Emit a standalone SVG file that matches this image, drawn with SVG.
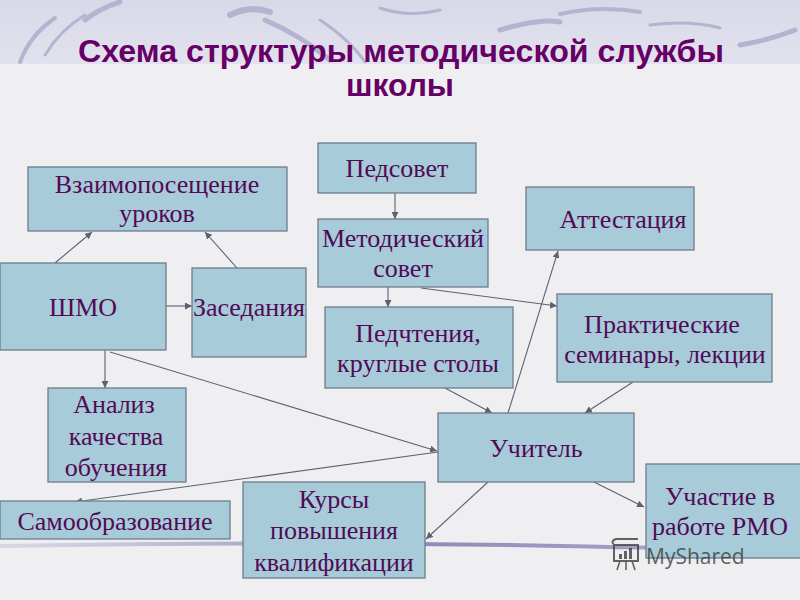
<svg xmlns="http://www.w3.org/2000/svg" width="800" height="600" viewBox="0 0 800 600">
<defs>
<marker id="ah" viewBox="0 0 10 10" refX="10" refY="5" markerWidth="7" markerHeight="7" markerUnits="userSpaceOnUse" orient="auto">
<path d="M0,0 L10,5 L0,10 z" fill="#5a6272"/>
</marker>
<linearGradient id="band" x1="0" y1="0" x2="0" y2="1">
<stop offset="0" stop-color="#d8d8e8"/>
<stop offset="1" stop-color="#e2e2ee"/>
</linearGradient>
<linearGradient id="sw" x1="0" y1="0" x2="1" y2="0">
<stop offset="0" stop-color="#c8c8dc" stop-opacity="0.6"/>
<stop offset="0.5" stop-color="#8a8ab8"/>
<stop offset="1" stop-color="#b0b0d0"/>
</linearGradient>
</defs>
<style>
.box{fill:#a7cbd9;stroke:#6e7c8c;stroke-width:1.3}
.t{font-family:"Liberation Serif","Times New Roman",serif;font-size:26px;fill:#520a56;text-anchor:middle}
.ttl{font-family:"Liberation Sans",Arial,sans-serif;font-weight:bold;font-size:32px;fill:#660066;text-anchor:middle}
.c{stroke:#5a6272;stroke-width:1.1;fill:none;marker-end:url(#ah)}
.sw{fill:none;stroke:#b4b4d0;stroke-linecap:round}
</style>
<rect width="800" height="600" fill="#efeff1"/>
<rect width="800" height="64" fill="url(#band)"/>
<g id="decor">
<path class="sw" d="M20,62 Q30,35 55,18" stroke-width="4"/>
<path class="sw" d="M45,55 Q60,30 85,15" stroke-width="3"/>
<path class="sw" d="M85,20 Q100,8 120,2" stroke-width="5"/>
<path class="sw" d="M230,15 Q250,5 270,12" stroke-width="6"/>
<path class="sw" d="M265,20 Q300,35 330,60" stroke-width="5"/>
<path class="sw" d="M320,20 Q350,40 365,62" stroke-width="3"/>
<path class="sw" d="M500,30 Q540,18 560,22" stroke-width="5"/>
<path class="sw" d="M560,14 Q600,5 640,12" stroke-width="4"/>
<path class="sw" d="M650,25 Q690,20 720,28" stroke-width="3"/>
<path class="sw" d="M740,45 Q770,40 795,30" stroke-width="5"/>
<path class="sw" d="M380,8 Q410,18 440,10" stroke-width="3"/>
<path d="M0,546 Q320,541 560,546 T800,548" fill="none" stroke="url(#sw)" stroke-width="4"/>
</g>
<g id="title">
<text class="ttl" x="401" y="62" textLength="646" lengthAdjust="spacingAndGlyphs">Схема структуры методической службы</text>
<text class="ttl" x="400" y="96" textLength="108" lengthAdjust="spacingAndGlyphs">школы</text>
</g>
<g id="connectors">
<line class="c" x1="55" y1="263" x2="92" y2="232"/>
<line class="c" x1="237" y1="268" x2="205" y2="232"/>
<line class="c" x1="166" y1="306" x2="192" y2="306"/>
<line class="c" x1="105" y1="350" x2="105" y2="388"/>
<line class="c" x1="110" y1="352" x2="437" y2="451"/>
<line class="c" x1="438" y1="452" x2="75" y2="502"/>
<line class="c" x1="395" y1="193" x2="395" y2="219"/>
<line class="c" x1="388" y1="287" x2="388" y2="307"/>
<line class="c" x1="421" y1="288" x2="557" y2="306"/>
<line class="c" x1="445" y1="388" x2="492" y2="413"/>
<line class="c" x1="633" y1="382" x2="585" y2="413"/>
<line class="c" x1="508" y1="413" x2="558" y2="251"/>
<line class="c" x1="488" y1="482" x2="426" y2="539"/>
<line class="c" x1="594" y1="482" x2="644" y2="507"/>
</g>
<g id="n-vzaimo"><rect class="box" x="28" y="167" width="259" height="64"/><text class="t" x="157" y="193">Взаимопосещение</text><text class="t" x="157" y="222">уроков</text></g>
<g id="n-pedsovet"><rect class="box" x="318" y="143" width="158" height="50"/><text class="t" x="397" y="177">Педсовет</text></g>
<g id="n-metsovet"><rect class="box" x="318" y="219" width="170" height="68"/><text class="t" x="403" y="247">Методический</text><text class="t" x="403" y="277">совет</text></g>
<g id="n-attest"><rect class="box" x="526" y="187" width="168" height="63"/><text class="t" x="623" y="228">Аттестация</text></g>
<g id="n-shmo"><rect class="box" x="0" y="263" width="166" height="87"/><text class="t" x="83" y="316">ШМО</text></g>
<g id="n-zased"><rect class="box" x="192" y="268" width="114" height="89"/><text class="t" x="249" y="316">Заседания</text></g>
<g id="n-pedcht"><rect class="box" x="325" y="307" width="188" height="81"/><text class="t" x="418" y="342">Педчтения,</text><text class="t" x="418" y="372">круглые столы</text></g>
<g id="n-prakt"><rect class="box" x="557" y="294" width="215" height="88"/><text class="t" x="662" y="333">Практические</text><text class="t" x="665" y="363">семинары, лекции</text></g>
<g id="n-analiz"><rect class="box" x="48" y="388" width="138" height="94"/><text class="t" x="114" y="413">Анализ</text><text class="t" x="116" y="445">качества</text><text class="t" x="116" y="476">обучения</text></g>
<g id="n-uchitel"><rect class="box" x="438" y="413" width="196" height="69"/><text class="t" x="536" y="457">Учитель</text></g>
<g id="n-samoobr"><rect class="box" x="0" y="501" width="230" height="38"/><text class="t" x="115" y="530">Самообразование</text></g>
<g id="n-kursy"><rect class="box" x="243" y="482" width="182" height="96"/><text class="t" x="334" y="508">Курсы</text><text class="t" x="334" y="539">повышения</text><text class="t" x="334" y="571">квалификации</text></g>
<g id="n-rmo"><rect class="box" x="646" y="464" width="160" height="94"/><text class="t" x="720" y="505">Участие в</text><text class="t" x="720" y="535">работе РМО</text></g>
<g id="watermark" opacity="0.75">
<rect x="614" y="545" width="24" height="16" fill="none" stroke="#333" stroke-width="2"/>
<path d="M614,545 q-4,-4 2,-6 h22" fill="none" stroke="#333" stroke-width="2"/>
<rect x="619" y="554" width="3" height="5" fill="#333"/><rect x="624" y="551" width="3" height="8" fill="#333"/><rect x="629" y="548" width="3" height="11" fill="#333"/>
<path d="M620,561 l-3,9 M626,561 v9 M632,561 l3,9" stroke="#333" stroke-width="1.6"/>
<text x="646" y="564" font-family="'Open Sans','Liberation Sans',sans-serif" font-size="21" fill="#333">MyShared</text>
</g>
</svg>
